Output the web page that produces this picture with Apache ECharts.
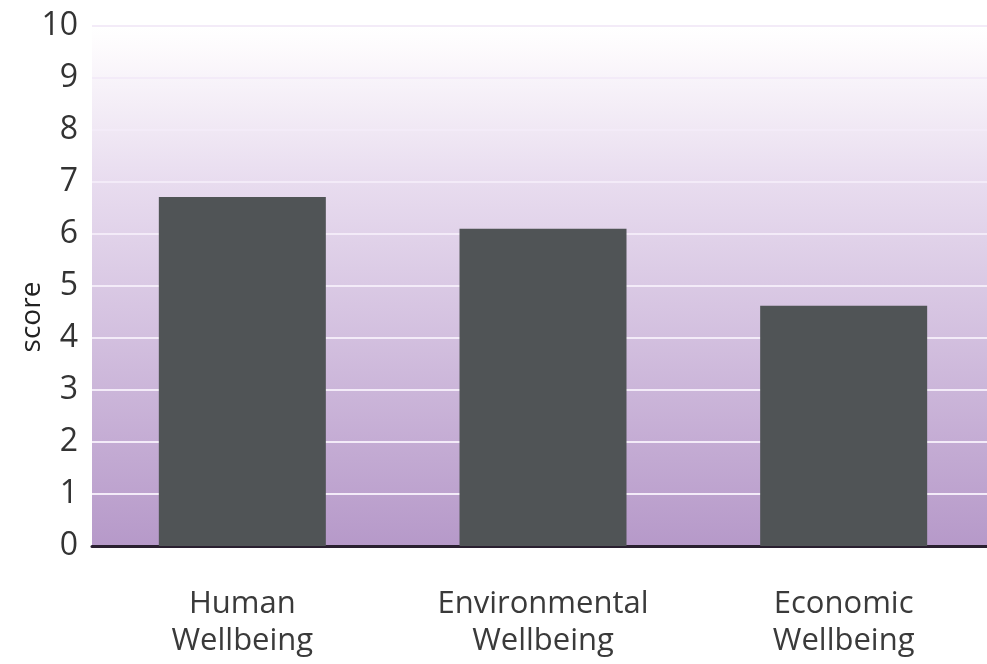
<!DOCTYPE html>
<html><head><meta charset="utf-8">
<script src="https://cdn.jsdelivr.net/npm/echarts@6/dist/echarts.min.js"></script>
<style>html,body{margin:0;padding:0;background:#fff}#c{width:987px;height:664px}</style>
</head><body><div id="c"></div>
<script>
const categories = ['Human\nWellbeing', 'Environmental\nWellbeing', 'Economic\nWellbeing'];
const scores = [6.71, 6.1, 4.62];
const yTicks = [0, 1, 2, 3, 4, 5, 6, 7, 8, 9, 10];

const chart = echarts.init(document.getElementById('c'));
chart.setOption({
  animation: false,
  grid: {
    left: 92, width: 902, top: 26, bottom: 118,
    outerBoundsMode: 'none',
    show: true, borderWidth: 0,
    backgroundColor: {
      type: 'linear', x: 0, y: 0, x2: 0, y2: 1,
      colorStops: [
        { offset: 0, color: '#ffffff' },
        { offset: 0.04, color: '#fdfbfd' },
        { offset: 0.3, color: '#e8dcef' },
        { offset: 1, color: '#b699c9' }
      ]
    }
  },
  xAxis: {
    type: 'category',
    data: categories,
    axisLine: { show: true, lineStyle: { color: '#2a2030', width: 3 } },
    axisTick: { show: false },
    axisLabel: {
      color: '#3a3a3a', fontSize: 31, fontFamily: 'Open Sans',
      lineHeight: 37, margin: 40, interval: 0
    }
  },
  yAxis: {
    type: 'value', min: yTicks[0], max: yTicks[yTicks.length - 1], interval: 1,
    name: 'score', nameLocation: 'middle', nameGap: 46, nameRotate: 90,
    nameMoveOverlap: false,
    nameTextStyle: { color: '#222', fontSize: 28, fontFamily: 'Open Sans', padding: [0, 62, 0, 0] },
    axisLine: { show: false },
    axisTick: { show: false },
    axisLabel: { color: '#333', fontSize: 32, fontFamily: 'Open Sans', margin: 14 },
    splitLine: { show: true, lineStyle: { color: '#f3ebf8', width: 2 } }
  },
  series: [{
    type: 'bar',
    data: scores,
    barWidth: 167,
    itemStyle: { color: '#505456' }
  }]
});
</script>
</body></html>
